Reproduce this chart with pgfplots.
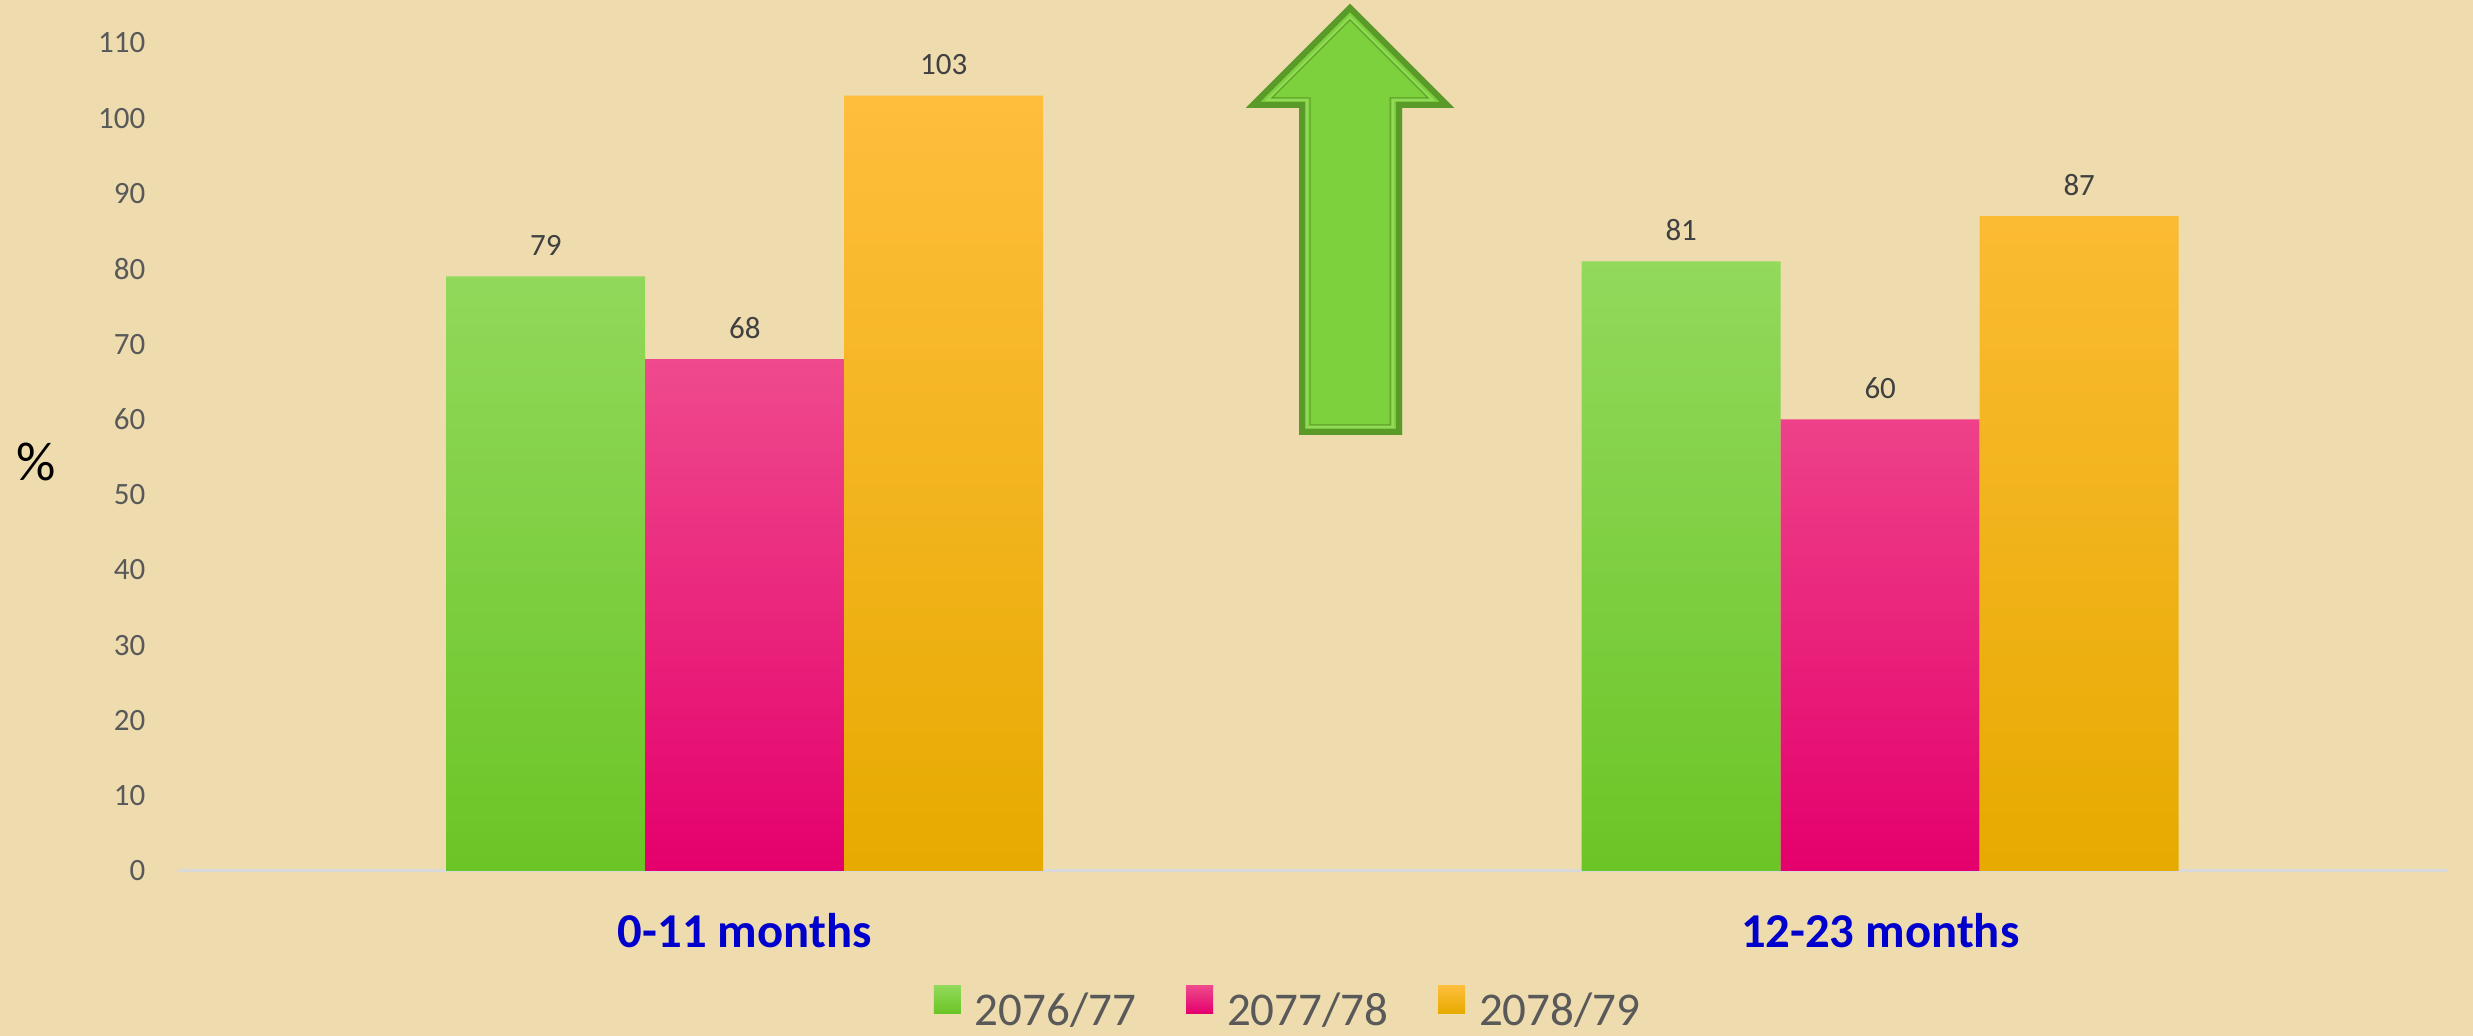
\documentclass[border=0pt]{standalone}
\usepackage{pgfplots}
\pgfplotsset{compat=1.18}
\usepackage{fontspec}
\setmainfont{Carlito}
\definecolor{bg}{HTML}{EEDCAE}
\definecolor{tickgray}{HTML}{595959}
\definecolor{labgray}{HTML}{404040}
\definecolor{xlab}{HTML}{0000CC}
\definecolor{gT}{HTML}{92D95C}
\definecolor{gM}{HTML}{7DD13A}
\definecolor{gB}{HTML}{6BC526}
\definecolor{pT}{HTML}{EF4A8D}
\definecolor{pM}{HTML}{EA1B7B}
\definecolor{pB}{HTML}{E4006C}
\definecolor{oT}{HTML}{FFBE3C}
\definecolor{oM}{HTML}{FFC000}
\definecolor{oB}{HTML}{E6AA00}
\definecolor{arrFill}{HTML}{7DD13C}
\definecolor{arrLine}{HTML}{5A9A28}
\pgfplotstableread{
x a b c
0 79 68 103
1 81 60 87
}\datatable
\begin{document}
\begin{tikzpicture}[x=0.3pt,y=0.3pt]
\fill[bg] (0,0) rectangle (2473,1036);
\path[use as bounding box] (0,0) rectangle (2473,1036);
\begin{axis}[
  at={(53.1pt,49.5pt)}, anchor=south west,
  scale only axis, width=681.3pt, height=248.4pt,
  xmin=-0.5, xmax=1.5, ymin=0, ymax=110,
  enlargelimits=false,
  ybar=0pt, bar width=59.7pt,
  xtick={0,1}, xticklabels={0-11 months,12-23 months},
  ytick={0,10,...,110},
  major tick length=0pt,
  axis x line*=bottom, axis y line*=left,
  y axis line style={draw=none},
  x axis line style={draw=black!15, line width=0.9pt, -},
  /pgf/number format/assume math mode=true,
  yticklabel style={font=\fontsize{9.3}{11}\selectfont, text=tickgray, anchor=east, inner sep=0pt, xshift=-9.3pt},
  xticklabel style={font=\fontsize{14.6}{17}\selectfont\bfseries, text=xlab, anchor=base, inner sep=0pt, yshift=-23.1pt},
  nodes near coords,
  nodes near coords style={font=\fontsize{9.3}{11}\selectfont, text=labgray, inner sep=0pt, anchor=south, yshift=6pt},
  legend columns=3,
  legend style={at={(0.4888,-0.1655)}, anchor=center, draw=none, fill=none,
    font=\fontsize{14.1}{17}\selectfont, text=tickgray,
    nodes={inner sep=0pt},
    /tikz/every odd column/.append style={column sep=4.2pt},
    /tikz/every even column/.append style={column sep=15pt}},
]
\addplot[draw=none, top color=gT, middle color=gM, bottom color=gB,
  legend image code/.code={\shade[top color=gT, bottom color=gB] (0pt,-0.3pt) rectangle (8.1pt,8.1pt);}]
  table[x=x,y=a] {\datatable};
\addlegendentry{2076/77}
\addplot[draw=none, top color=pT, middle color=pM, bottom color=pB,
  legend image code/.code={\shade[top color=pT, bottom color=pB] (0pt,-0.3pt) rectangle (8.1pt,8.1pt);}]
  table[x=x,y=b] {\datatable};
\addlegendentry{2077/78}
\addplot[draw=none, top color=oT, middle color=oM, bottom color=oB,
  legend image code/.code={\shade[top color=oT, bottom color=oB] (0pt,-0.3pt) rectangle (8.1pt,8.1pt);}]
  table[x=x,y=c] {\datatable};
\addlegendentry{2078/79}
\end{axis}
% percent label
\node[font=\fontsize{16.5}{19}\selectfont, text=black, inner sep=0pt] at (36,574) {\%};
% decorative up arrow
\fill[arrFill] (1350,1031) -- (1453,928) -- (1402,928) -- (1402,601) -- (1299,601) -- (1299,928) -- (1247,928) -- cycle;
\draw[arrLine, line width=1.8pt, line join=miter] (1350,1028) -- (1447,931) -- (1399,931) -- (1399,604) -- (1302,604) -- (1302,931) -- (1253,931) -- cycle;
\draw[gT, line width=0.5pt, line join=miter] (1350,1019) -- (1433,936) -- (1393,936) -- (1393,609) -- (1307,609) -- (1307,936) -- (1267,936) -- cycle;
\draw[arrLine, line width=0.3pt, line join=miter] (1350,1016) -- (1428,938) -- (1390,938) -- (1390,611) -- (1310,611) -- (1310,938) -- (1272,938) -- cycle;
\end{tikzpicture}
\end{document}
